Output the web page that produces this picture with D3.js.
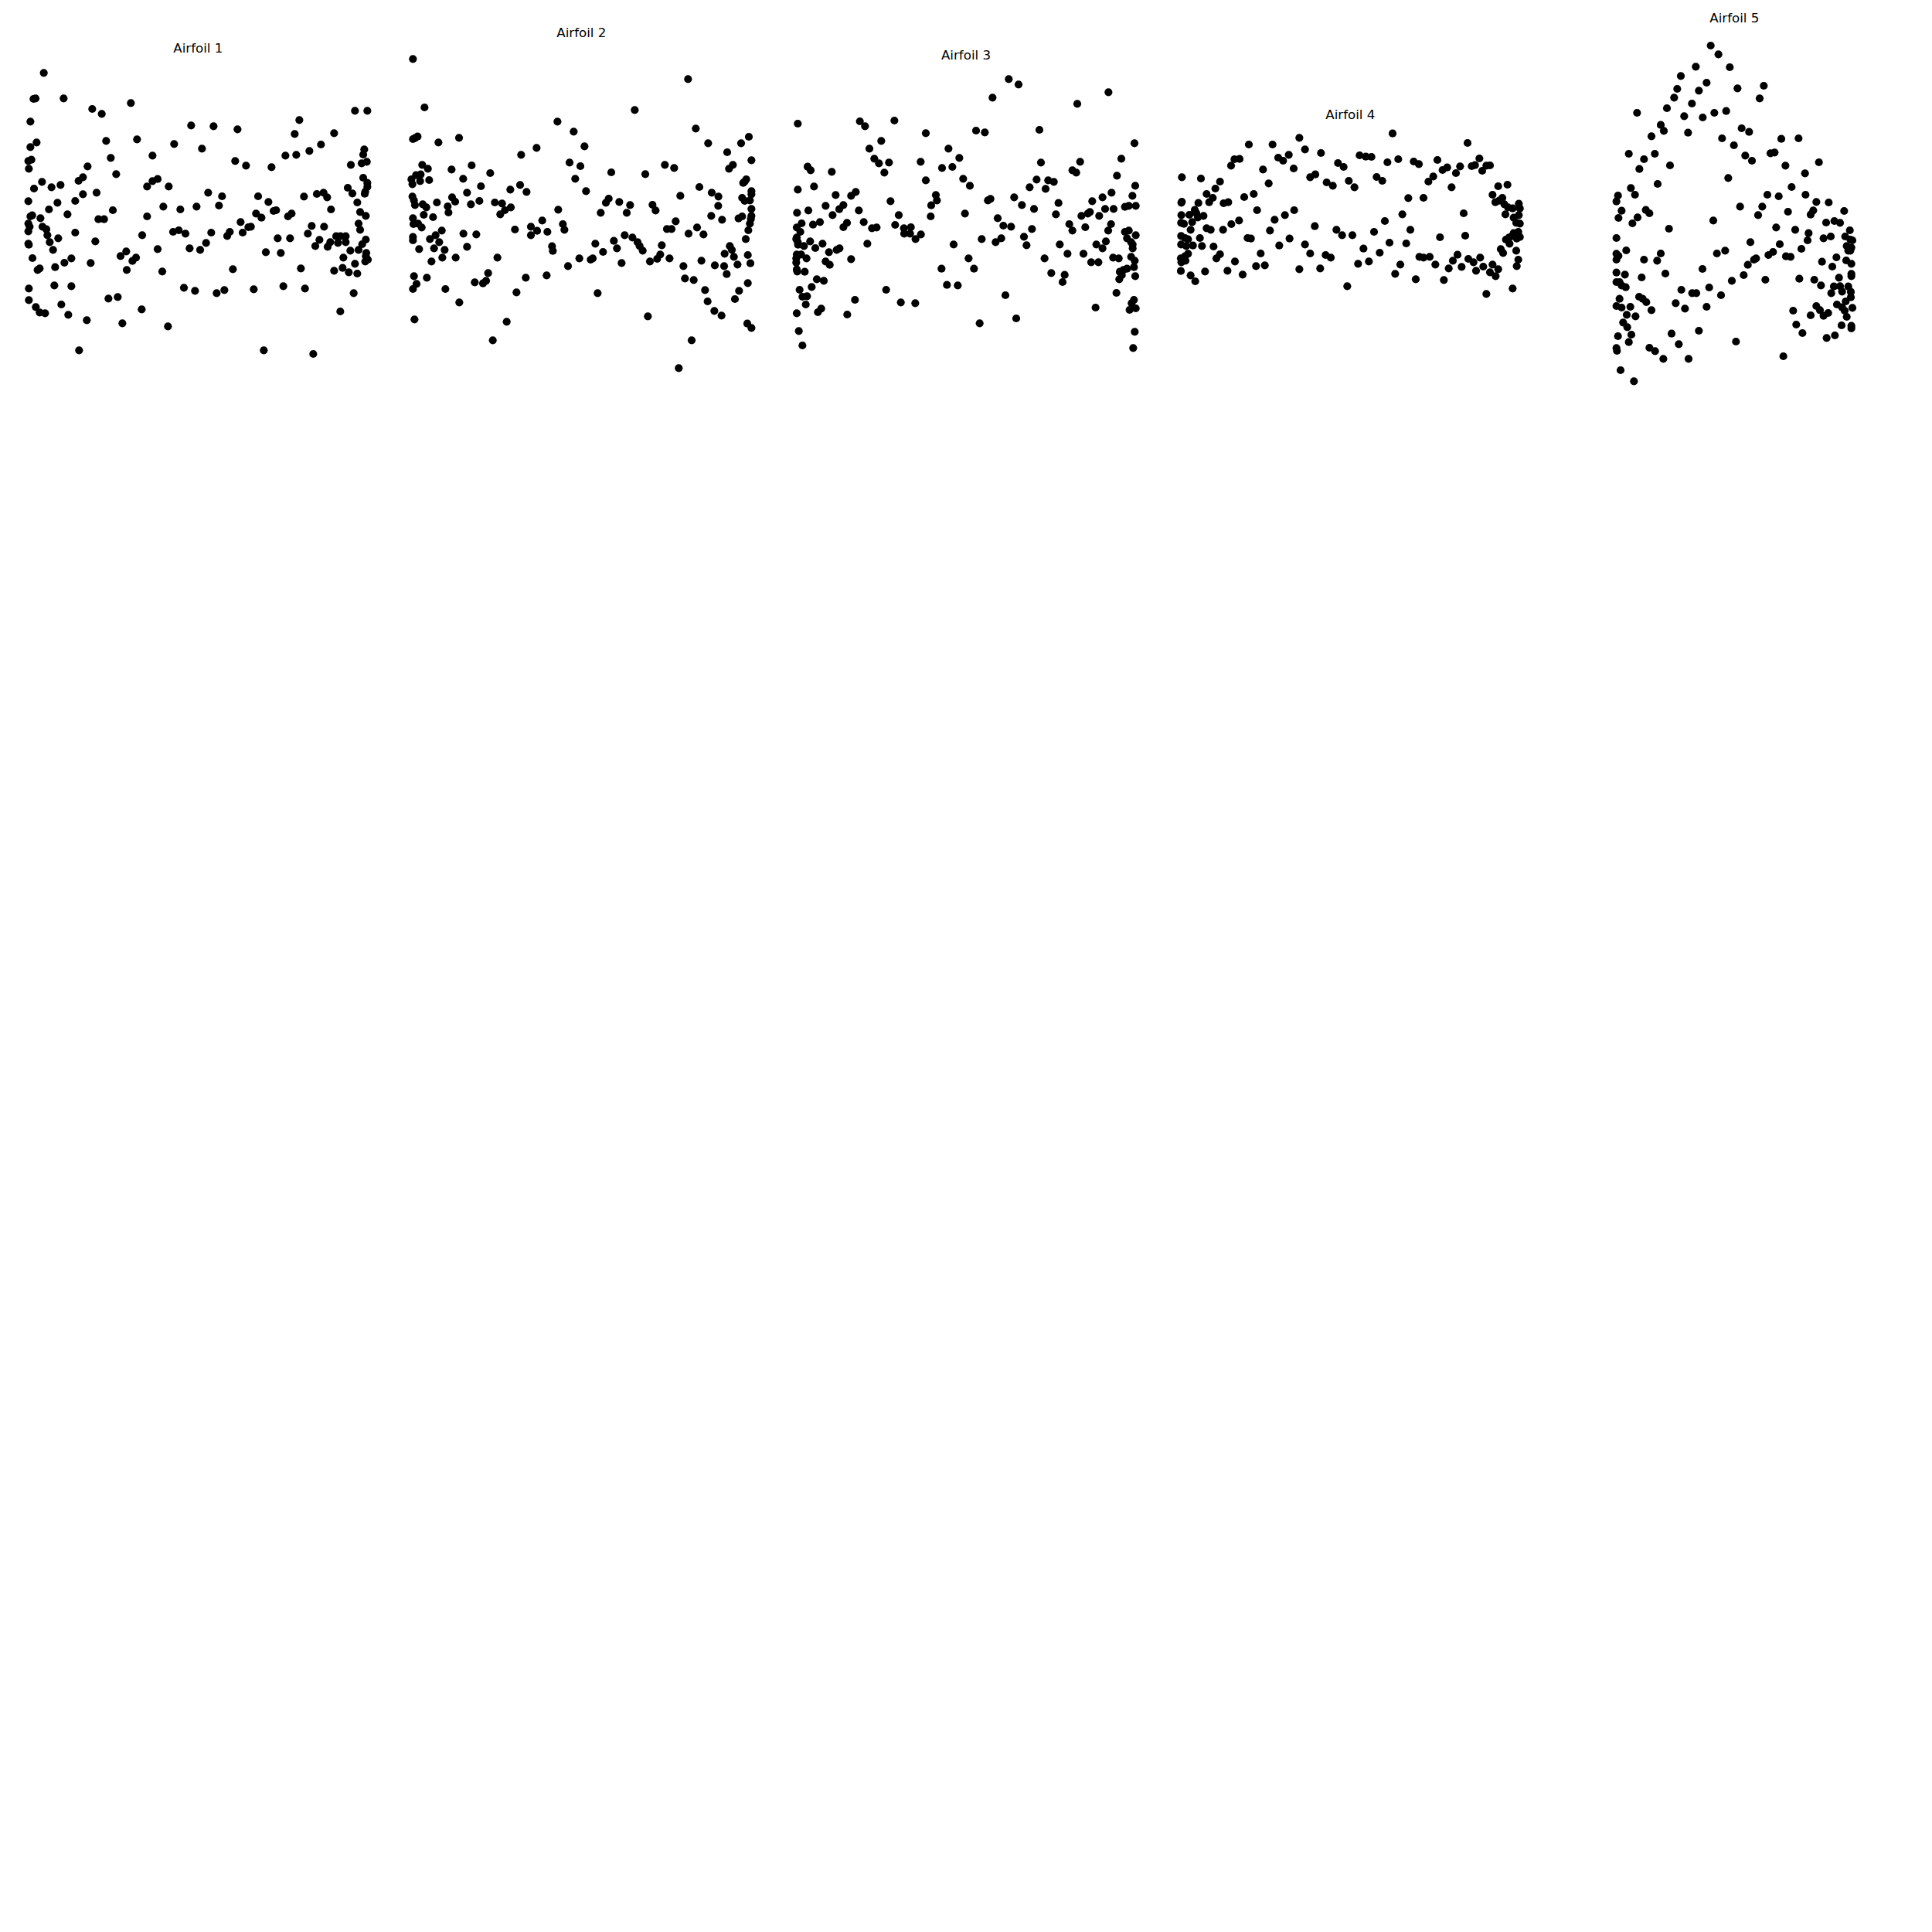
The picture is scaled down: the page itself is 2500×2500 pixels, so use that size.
<!DOCTYPE html>
<html>
<head>
<meta charset="utf-8">
<script src="https://cdn.jsdelivr.net/npm/d3@7"></script>
<style>
  html, body { margin: 0; padding: 0; background: #ffffff; }
  svg { display: block; }
</style>
</head>
<body>
<svg id="chart" width="2500" height="2500"></svg>
<script>
// ---- Data (coordinates, in reading units: 3 units = 1 px) ----
const titles = ["Airfoil 1", "Airfoil 2", "Airfoil 3", "Airfoil 4", "Airfoil 5"];

const airfoil1 = [
[110,163],[70,264],[78,262],[187,262],[448,280],[298,303],[335,322],[1318,310],[1366,310],[58,352],
[1102,346],[682,367],[769,370],[862,382],[1084,400],[1237,397],[352,427],[472,421],[82,433],[58,451],
[616,439],[724,457],[1186,441],[1141,466],[1090,481],[1048,484],[532,484],[1354,460],[1350,480],[370,493],
[50,505],[62,500],[52,535],[853,505],[895,523],[994,529],[280,526],[1302,520],[1344,514],[1364,508],
[391,556],[262,568],[245,582],[1350,570],[1366,590],[1366,605],[103,586],[140,607],[175,598],[72,612],
[532,583],[552,575],[511,604],[595,604],[1290,609],[1308,631],[1356,632],[1358,624],[315,628],[262,634],
[748,628],[802,642],[942,642],[1120,643],[1170,633],[1196,628],[1210,646],[50,661],[163,667],[232,660],
[982,664],[1327,666],[130,693],[378,696],[574,682],[640,693],[703,682],[790,678],[1002,699],[1012,696],
[1225,693],[1338,703],[65,716],[58,720],[97,727],[202,712],[322,731],[344,731],[511,720],[934,709],
[955,725],[1058,720],[1072,709],[1360,718],[50,748],[55,760],[50,778],[105,760],[120,770],[874,742],
[904,762],[914,760],[1332,748],[1338,772],[1150,757],[1198,760],[232,783],[124,793],[166,805],[133,820],
[492,793],[612,780],[634,774],[660,787],[760,783],[822,796],[832,780],[882,783],[1135,787],[1018,805],
[1066,805],[1245,797],[1262,797],[1282,797],[1180,811],[1164,835],[1212,838],[1222,820],[1252,823],[1282,820],
[1360,810],[1346,828],[50,826],[52,830],[310,817],[146,850],[552,847],[676,844],[717,850],[740,823],
[1300,853],[1332,850],[972,859],[1030,862],[1362,862],[1360,874],[1368,888],[1358,895],[66,882],[217,883],
[190,900],[292,901],[408,874],[430,856],[454,893],[468,880],[1273,880],[86,928],[94,922],[154,917],
[432,928],[570,934],[844,925],[1108,922],[1237,931],[1270,920],[1294,937],[1318,904],[1327,942],[52,1000],
[151,988],[217,991],[654,997],[697,1009],[781,1018],[811,1006],[925,1003],[1040,991],[1124,1000],[1313,1018],
[52,1045],[79,1072],[94,1093],[115,1096],[178,1062],[205,1102],[361,1039],[397,1033],[490,1081],[277,1123],
[415,1135],[592,1147],[1261,1089],[247,1240],[964,1240],[1156,1254]
];

const airfoil2 = [
[58,169],[1126,247],[103,357],[919,367],[619,412],[682,451],[1156,439],[58,480],[66,476],[76,470],
[237,475],[157,493],[724,508],[538,514],[478,541],[1204,496],[1332,496],[1362,471],[1278,531],[1372,562],
[94,580],[116,595],[208,598],[286,582],[666,571],[708,585],[1036,580],[1072,592],[1285,595],[1300,580],
[358,612],[828,609],[960,616],[52,636],[70,620],[88,617],[56,655],[86,643],[121,639],[253,634],
[688,634],[1340,650],[1352,636],[1346,645],[322,663],[474,658],[436,676],[499,685],[730,682],[1170,666],
[1218,688],[1244,703],[268,688],[1372,682],[1372,694],[1096,700],[56,703],[62,718],[66,736],[96,733],
[110,745],[151,726],[210,706],[222,723],[193,741],[196,765],[283,733],[316,720],[376,726],[404,730],
[415,756],[397,772],[438,745],[807,727],[818,711],[859,724],[901,736],[888,766],[787,766],[988,735],
[1000,757],[1336,708],[1346,720],[1366,718],[1243,739],[1372,751],[100,774],[136,783],[58,787],[60,810],
[78,808],[92,823],[622,754],[560,796],[516,820],[540,836],[516,853],[580,840],[454,831],[640,810],
[646,832],[1216,778],[1258,793],[1078,799],[1044,829],[1062,829],[1322,788],[1336,780],[1372,778],[1370,790],
[1366,808],[1360,834],[1161,823],[1186,850],[1128,847],[58,860],[58,873],[146,853],[124,868],[170,835],
[160,880],[254,847],[304,850],[268,898],[82,907],[140,904],[181,910],[880,853],[910,862],[930,880],
[938,895],[950,913],[838,875],[766,886],[850,904],[796,918],[598,896],[601,914],[1024,892],[1018,928],
[1006,945],[1350,868],[1288,895],[1296,910],[1304,937],[1268,925],[130,955],[172,940],[224,940],[386,940],
[704,943],[748,948],[756,943],[660,973],[868,961],[978,955],[1054,943],[1178,952],[1230,970],[1266,973],
[1318,967],[1358,930],[1368,962],[1108,973],[1276,1004],[62,1012],[72,1042],[58,1062],[112,1018],[350,1000],
[330,1040],[342,1030],[298,1036],[184,1062],[496,1018],[577,1009],[1114,1021],[1148,1027],[1358,1039],[460,1075],
[775,1078],[1192,1066],[1324,1069],[1308,1101],[1202,1110],[238,1114],[1228,1147],[1256,1165],[970,1168],[64,1180],
[422,1189],[1356,1196],[1372,1213],[368,1261],[1140,1261],[1090,1369]
];

const airfoil3 = [
[871,157],[909,178],[808,229],[1258,208],[1137,253],[52,330],[293,321],[313,340],[427,318],[549,367],
[744,357],[778,364],[990,354],[376,397],[1359,406],[330,427],[637,427],[349,466],[367,484],[406,481],
[529,478],[679,463],[996,481],[1148,478],[1308,466],[90,497],[102,511],[184,517],[388,520],[612,502],
[652,498],[1118,511],[1133,520],[1291,532],[549,550],[694,544],[720,571],[979,547],[1024,550],[1046,556],
[1014,583],[952,577],[52,586],[115,574],[1362,571],[199,607],[259,610],[277,595],[588,607],[592,628],
[570,647],[790,628],[800,622],[892,616],[412,631],[1270,598],[1235,616],[1195,631],[1351,610],[160,649],
[213,662],[229,646],[93,667],[187,685],[922,646],[969,661],[1064,638],[1322,653],[1337,649],[1364,649],
[1245,661],[1278,661],[49,676],[289,667],[701,679],[444,685],[568,690],[1054,682],[1153,688],[1178,679],
[1186,673],[1222,688],[828,697],[138,712],[111,722],[243,715],[229,732],[308,712],[67,717],[48,733],
[62,750],[340,736],[358,733],[430,723],[464,736],[491,732],[465,757],[488,757],[509,778],[530,760],
[850,726],[880,730],[1106,720],[1168,732],[1118,745],[1268,720],[1257,745],[961,739],[1322,750],[1337,745],
[1364,763],[1330,775],[48,772],[46,778],[52,790],[53,800],[76,805],[100,787],[120,813],[148,796],
[173,829],[203,820],[214,814],[322,796],[766,778],[820,790],[842,775],[930,769],[657,799],[940,802],
[1069,799],[1211,799],[1235,814],[1248,787],[1352,799],[1352,814],[1346,790],[48,838],[65,838],[46,853],
[86,853],[46,869],[259,856],[160,865],[176,878],[715,853],[1010,853],[1099,835],[1161,835],[1276,850],
[1298,853],[1346,847],[1360,862],[1357,887],[1191,868],[1219,868],[48,896],[50,904],[79,905],[610,893],
[736,893],[1302,905],[1316,898],[1330,893],[1310,918],[1036,910],[1088,917],[1080,945],[1362,922],[126,934],
[153,940],[1300,934],[106,964],[631,956],[673,958],[59,975],[395,975],[70,1002],[88,1000],[858,996],
[1289,987],[83,1032],[274,1014],[452,1024],[508,1027],[1357,1014],[1348,1027],[130,1062],[143,1048],[48,1066],
[244,1071],[1208,1044],[1340,1053],[1364,1047],[900,1086],[758,1105],[56,1135],[1360,1138],[70,1191],[1354,1201]
];

const airfoil4 = [
[876,143],[514,160],[1167,180],[318,186],[410,186],[536,205],[598,219],[473,226],[432,237],[451,249],
[262,243],[282,242],[249,268],[748,228],[772,233],[794,234],[898,243],[856,255],[664,258],[686,273],
[492,279],[373,283],[958,252],[978,262],[1050,246],[1213,240],[1183,270],[1196,266],[1240,268],[1254,267],
[1224,288],[1138,271],[1122,297],[1088,275],[1070,285],[58,313],[132,318],[556,313],[576,302],[620,333],
[644,346],[706,327],[728,352],[814,312],[836,327],[1034,310],[1015,330],[206,330],[188,357],[395,337],
[1105,352],[1286,348],[1322,342],[154,378],[178,393],[164,410],[300,390],[337,378],[220,414],[238,410],
[937,394],[996,393],[1264,381],[1302,393],[1275,410],[1290,404],[1310,418],[58,408],[56,412],[122,413],
[350,441],[494,441],[458,460],[418,478],[1152,453],[914,457],[1324,430],[1342,434],[1366,416],[1370,434],
[1366,460],[1314,457],[56,460],[87,459],[108,440],[114,452],[55,490],[66,494],[98,487],[120,469],
[142,463],[250,495],[280,481],[846,483],[1346,470],[1356,490],[1370,493],[92,517],[154,511],[170,517],
[218,517],[400,520],[574,503],[658,517],[680,538],[720,538],[804,525],[945,517],[1346,530],[1364,525],
[1370,545],[55,541],[70,549],[82,554],[128,549],[313,549],[326,551],[476,551],[1060,546],[1158,540],
[1316,555],[1328,547],[1340,541],[1358,551],[55,574],[75,580],[101,578],[136,580],[436,578],[536,574],
[864,567],[929,570],[1330,571],[181,582],[763,590],[1296,592],[1305,607],[1356,598],[82,610],[70,620],
[54,628],[56,643],[72,637],[206,612],[192,628],[364,609],[556,609],[616,615],[636,625],[826,606],
[980,622],[996,625],[1020,622],[1128,614],[1110,637],[1170,630],[1190,643],[1216,625],[1364,633],[1358,658],
[264,640],[346,658],[380,655],[742,649],[784,640],[906,652],[1042,652],[1228,660],[1264,652],[1144,661],
[1094,667],[54,677],[148,679],[235,676],[514,670],[595,667],[1200,676],[1254,682],[1286,670],[1276,697],
[92,694],[294,691],[886,688],[110,717],[966,709],[1075,712],[700,736],[1342,745],[1240,766]
];

const airfoil5 = [
[416,162],[446,196],[358,244],[490,246],[300,280],[400,306],[286,330],[370,337],[520,328],[622,318],
[274,364],[343,387],[606,367],[130,423],[246,405],[313,436],[385,441],[430,423],[476,416],[222,470],
[234,493],[328,500],[186,514],[536,483],[565,497],[460,522],[506,549],[690,524],[757,522],[98,582],
[199,582],[157,603],[139,641],[258,627],[550,589],[576,609],[648,580],[664,577],[706,628],[836,615],
[782,658],[484,676],[210,699],[106,715],[122,741],[730,711],[56,744],[50,767],[636,741],[680,747],
[784,741],[826,769],[874,771],[70,803],[58,831],[164,800],[178,813],[132,829],[112,852],[530,787],
[616,787],[600,820],[716,807],[804,818],[814,802],[934,804],[426,841],[864,849],[896,843],[918,850],
[254,873],[670,868],[744,877],[50,909],[956,879],[570,925],[684,933],[796,890],[792,918],[854,910],
[882,903],[938,903],[958,915],[966,918],[944,940],[962,946],[950,958],[958,958],[768,951],[88,957],
[50,970],[58,978],[50,993],[472,958],[440,969],[222,969],[640,975],[658,963],[708,980],[726,982],
[157,993],[208,997],[584,993],[592,988],[848,1001],[904,984],[942,996],[962,1009],[560,1013],[888,1020],
[384,1029],[50,1043],[83,1051],[240,1047],[544,1053],[962,1048],[962,1057],[914,1063],[148,1062],[50,1080],
[62,1080],[70,1093],[86,1100],[498,1075],[628,1071],[760,1067],[818,1071],[844,1093],[894,1097],[918,1096],
[950,1097],[884,1123],[926,1117],[960,1118],[302,1110],[344,1123],[360,1123],[410,1101],[456,1131],[138,1137],
[152,1145],[166,1158],[960,1139],[940,1155],[906,1167],[62,1145],[50,1173],[70,1179],[104,1176],[280,1162],
[316,1183],[400,1176],[186,1189],[826,1173],[840,1189],[872,1200],[854,1211],[804,1209],[736,1191],[926,1178],
[936,1191],[966,1180],[944,1215],[90,1207],[124,1213],[76,1237],[92,1255],[748,1245],[924,1248],[962,1250],
[962,1260],[370,1269],[264,1280],[108,1284],[772,1278],[56,1290],[98,1313],[292,1321],[514,1311],[866,1297],
[898,1287],[50,1336],[52,1347],[178,1335],[200,1348],[232,1378],[330,1378],[698,1368],[66,1422],[118,1465]
];

const series = [airfoil1, airfoil2, airfoil3, airfoil4, airfoil5];

// ---- Layout (where each panel's reading frame sits on the page) ----
const frames = [
  {left: 20,   top: 40},
  {left: 515,  top: 20},
  {left: 1015, top: 50},
  {left: 1510, top: 125},
  {left: 2075, top: 5}
];
const unitsPerPx = 3;
const dotRadius = 5.1;

const svg = d3.select("#chart");

series.forEach((pts, i) => {
  const f = frames[i];
  const x = d3.scaleLinear().domain([0, 1500]).range([f.left, f.left + 1500 / unitsPerPx]);
  const y = d3.scaleLinear().domain([0, 1500]).range([f.top, f.top + 1500 / unitsPerPx]);

  const g = svg.append("g").attr("class", "panel");

  g.selectAll("circle")
    .data(pts)
    .join("circle")
    .attr("cx", d => x(d[0]))
    .attr("cy", d => y(d[1]))
    .attr("r", dotRadius)
    .attr("fill", "#000000");

  // Title placed above the data extent, matplotlib-like (5% margin + pad)
  const [xmin, xmax] = d3.extent(pts, d => d[0]);
  const [ymin, ymax] = d3.extent(pts, d => d[1]);
  const topPx = y(ymin) - 0.05 * (y(ymax) - y(ymin));
  g.append("text")
    .attr("x", (x(xmin) + x(xmax)) / 2)
    .attr("y", topPx - 8.3)
    .attr("text-anchor", "middle")
    .attr("font-family", "DejaVu Sans, sans-serif")
    .attr("font-size", 16.7)
    .attr("fill", "#000000")
    .text(titles[i]);
});
</script>
</body>
</html>
